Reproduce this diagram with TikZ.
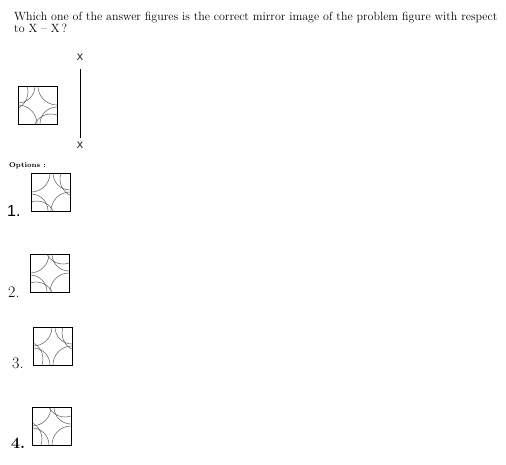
\documentclass[tikz,border=0pt]{standalone}
\usepackage{fontspec}
\newfontfamily\arialfont{Liberation Sans}
\usetikzlibrary{positioning}

\begin{document}
\begin{tikzpicture}[
    x=1pt, y=-1pt,
    every node/.style={inner sep=0pt},
    box/.style={draw, line width=0.8pt, minimum width=39pt, minimum height=38pt, anchor=north west},
    curve/.style={draw=black!60, line width=0.55pt},
    num/.style={anchor=base west, font=\fontsize{16}{16}\selectfont}
]
    \useasboundingbox (0,0) rectangle (506,464);

    % question (base anchor sits on the last line)
    \node[anchor=base west, align=left, font=\fontsize{11.95}{12}\selectfont] (title) at (14,32)
        {Which one of the answer figures is the correct mirror image of the problem figure with respect\\to X -- X\,?};

    % problem figure
    \begin{scope}[shift={(18,86)}]
        \clip (0,0) rectangle (39,38);
        \draw[curve] (0,0) circle[radius=17];
        \draw[curve] (-8,6) circle[radius=18];
        \draw[curve] (39,0) circle[radius=19];
        \draw[curve] (39,38) circle[radius=17];
        \draw[curve] (33,46) circle[radius=18];
        \draw[curve] (0,38) circle[radius=19];
    \end{scope}
    \node[box] (prob) at (18,86) {};

    % mirror line
    \node[font=\arialfont\fontsize{9.5}{9.5}\selectfont] (xtop) at (80,57) {X};
    \node[font=\arialfont\fontsize{9.5}{9.5}\selectfont] (xbot) at (80,145) {X};
    \draw[line width=0.7pt, shorten <=9pt, shorten >=4pt] (xtop) -- (xbot);

    \node[anchor=base west, font=\bfseries\fontsize{7}{7}\selectfont] (opts) at (9,167) {Options :};

    % option 1
    \begin{scope}[shift={(31,173)}]
        \clip (0,0) rectangle (39,38);
        \draw[curve] (0,0) circle[radius=19];
        \draw[curve] (39,0) circle[radius=17];
        \draw[curve] (47,6) circle[radius=18];
        \draw[curve] (39,38) circle[radius=19];
        \draw[curve] (0,38) circle[radius=17];
        \draw[curve] (6,46) circle[radius=18];
    \end{scope}
    \node[box] (opt1) at (31,173) {};
    \node[num, font=\arialfont\fontsize{16}{16}\selectfont] (lab1) at (7,216) {1.};

    % option 2
    \begin{scope}[shift={(30,254)}]
        \clip (0,0) rectangle (39,38);
        \draw[curve] (0,0) circle[radius=19];
        \draw[curve] (39,0) circle[radius=17];
        \draw[curve] (33,-8) circle[radius=18];
        \draw[curve] (39,38) circle[radius=19];
        \draw[curve] (0,38) circle[radius=17];
        \draw[curve] (6,46) circle[radius=18];
    \end{scope}
    \node[box] (opt2) at (30,254) {};
    \node[num] (lab2) at (8,297) {2.};

    % option 3
    \begin{scope}[shift={(33,327)}]
        \clip (0,0) rectangle (39,38);
        \draw[curve] (0,0) circle[radius=19];
        \draw[curve] (39,0) circle[radius=17];
        \draw[curve] (47,6) circle[radius=18];
        \draw[curve] (39,38) circle[radius=19];
        \draw[curve] (0,38) circle[radius=17];
        \draw[curve] (-8,32) circle[radius=18];
    \end{scope}
    \node[box] (opt3) at (33,327) {};
    \node[num] (lab3) at (12,368) {3.};

    % option 4
    \begin{scope}[shift={(32,407)}]
        \clip (0,0) rectangle (39,38);
        \draw[curve] (0,0) circle[radius=19];
        \draw[curve] (39,0) circle[radius=17];
        \draw[curve] (33,-8) circle[radius=18];
        \draw[curve] (39,38) circle[radius=19];
        \draw[curve] (0,38) circle[radius=17];
        \draw[curve] (-8,32) circle[radius=18];
    \end{scope}
    \node[box] (opt4) at (32,407) {};
    \node[num, font=\bfseries\fontsize{16}{16}\selectfont] (lab4) at (11,448) {4.};
\end{tikzpicture}
\end{document}
